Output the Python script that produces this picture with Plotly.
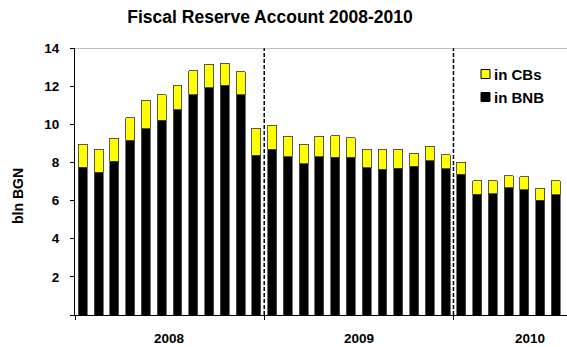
import plotly.graph_objects as go

months = (["Jan 2008", "Feb 2008", "Mar 2008", "Apr 2008", "May 2008", "Jun 2008",
           "Jul 2008", "Aug 2008", "Sep 2008", "Oct 2008", "Nov 2008", "Dec 2008"] +
          ["Jan 2009", "Feb 2009", "Mar 2009", "Apr 2009", "May 2009", "Jun 2009",
           "Jul 2009", "Aug 2009", "Sep 2009", "Oct 2009", "Nov 2009", "Dec 2009"] +
          ["Jan 2010", "Feb 2010", "Mar 2010", "Apr 2010", "May 2010", "Jun 2010", "Jul 2010"])

in_bnb = [7.74, 7.48, 8.07, 9.17, 9.76, 10.22, 10.76, 11.54, 11.92, 12.05, 11.56, 8.37,
          8.70, 8.30, 7.93, 8.30, 8.28, 8.26, 7.71, 7.65, 7.69, 7.79, 8.09, 7.67,
          7.37, 6.33, 6.35, 6.66, 6.57, 6.01, 6.31]
in_cbs = [1.22, 1.22, 1.20, 1.17, 1.50, 1.32, 1.30, 1.26, 1.24, 1.16, 1.20, 1.41,
          1.24, 1.06, 1.03, 1.08, 1.13, 1.03, 0.99, 1.05, 1.01, 0.68, 0.75, 0.72,
          0.63, 0.71, 0.69, 0.64, 0.67, 0.63, 0.72]

years = ["2008", "2009", "2010"]
year_counts = [12, 12, 7]
y_ticks = [0, 2, 4, 6, 8, 10, 12, 14]
y_tick_text = ["", "2", "4", "6", "8", "10", "12", "14"]
legend_names = ["in CBs", "in BNB"]
legend_colors = ["#FFFF00", "#000000"]

x = list(range(len(months)))
FONT = "Liberation Sans, Arial, sans-serif"

W, H = 567, 347
ML, MR, MT, MB = 75, 0, 48, 32
PW, PH = W - ML - MR, H - MT - MB


def px_to_paper_x(px):
    return (px - ML) / PW


def px_to_paper_y(py):
    return (H - MB - py) / PH


fig = go.Figure()
fig.add_trace(go.Bar(x=x, y=in_bnb, name="in BNB", width=0.57, hovertext=months,
                     showlegend=False,
                     marker=dict(color="#000000", line=dict(color="#555555", width=0.8))))
fig.add_trace(go.Bar(x=x, y=in_cbs, name="in CBs", width=0.57, hovertext=months,
                     showlegend=False,
                     marker=dict(color="#FFFF00", line=dict(color="#333333", width=0.8))))

# group boundaries
bounds = [-0.5]
for c in year_counts:
    bounds.append(bounds[-1] + c)

shapes = []
for b in bounds[1:-1]:
    shapes.append(dict(type="line", xref="x", yref="y", x0=b, x1=b, y0=0, y1=14,
                       line=dict(color="black", width=1.5, dash="4px,2px")))
shapes.append(dict(type="line", xref="paper", yref="y", x0=0, x1=1, y0=14, y1=14,
                   line=dict(color="#808080", width=1)))

annotations = []
centers = [bounds[0] + year_counts[0] / 2, bounds[1] + year_counts[1] / 2, bounds[2] + 4.85]
for yr, cx in zip(years, centers):
    annotations.append(dict(text="<b>" + yr + "</b>", x=cx, xref="x", y=px_to_paper_y(338),
                            yref="paper", showarrow=False, yanchor="middle",
                            font=dict(family=FONT, size=13.5, color="black")))

# y-axis title
annotations.append(dict(text="<b>bln BGN</b>", textangle=-90, x=px_to_paper_x(18),
                        xref="paper", y=px_to_paper_y(196), yref="paper", showarrow=False,
                        xanchor="center", yanchor="middle",
                        font=dict(family=FONT, size=14, color="black")))

# legend
for i, (nm, col) in enumerate(zip(legend_names, legend_colors)):
    cy = 74 + 23 * i
    shapes.append(dict(type="rect", xref="paper", yref="paper",
                       x0=px_to_paper_x(481), x1=px_to_paper_x(490),
                       y0=px_to_paper_y(cy + 4.5), y1=px_to_paper_y(cy - 4.5),
                       fillcolor=col, line=dict(color="black", width=1)))
    annotations.append(dict(text="<b>" + nm + "</b>", x=px_to_paper_x(492), xref="paper",
                            y=px_to_paper_y(cy), yref="paper", showarrow=False,
                            xanchor="left", yanchor="middle",
                            font=dict(family=FONT, size=15, color="black")))

fig.update_layout(
    width=W, height=H,
    margin=dict(l=ML, r=MR, t=MT, b=MB),
    paper_bgcolor="white", plot_bgcolor="white",
    barmode="stack",
    showlegend=False,
    title=dict(text="<b>Fiscal Reserve Account 2008-2010</b>", x=270 / W, xref="container",
               xanchor="center", y=1 - 17 / H, yanchor="middle",
               font=dict(family=FONT, size=17.5, color="black")),
    xaxis=dict(range=[-0.5, 30.7], tickmode="array", tickvals=bounds[:-1],
               ticktext=["", "", ""], ticks="outside", ticklen=4, tickcolor="black",
               showline=True, linecolor="black", linewidth=1, showgrid=False,
               zeroline=False),
    yaxis=dict(range=[0, 14], tickmode="array", tickvals=y_ticks, ticktext=y_tick_text,
               ticks="outside", ticklen=4, tickcolor="black", showline=True,
               linecolor="black", linewidth=1, showgrid=False, zeroline=False,
               ticklabelstandoff=8,
               tickfont=dict(family=FONT, size=13.5, color="black", weight="bold")),
    shapes=shapes,
    annotations=annotations,
)

fig.write_html("out.html")
